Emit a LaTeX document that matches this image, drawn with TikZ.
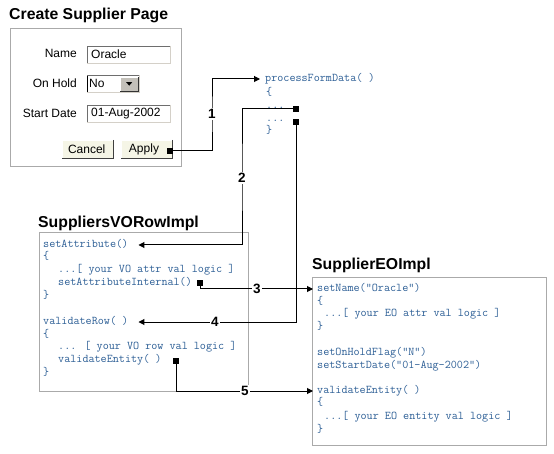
\documentclass[tikz,border=0pt]{standalone}
\usepackage{fontspec}
\setmainfont{Liberation Sans}
\usetikzlibrary{arrows.meta}
\definecolor{codeblue}{RGB}{45,95,150}
\definecolor{boxgray}{RGB}{170,170,170}
\definecolor{btnfill}{RGB}{245,245,230}
\definecolor{darkedge}{RGB}{110,110,110}
\definecolor{lightedge}{RGB}{212,208,200}
\begin{document}
\begin{tikzpicture}[x=1pt,y=-1pt,
  codeline/.style={anchor=west, inner sep=0pt, font=\ttfamily\fontsize{11.8}{13}\selectfont, text=codeblue, text height=7pt, text depth=2pt},
  title/.style={anchor=west, inner sep=0pt, font=\bfseries\fontsize{15.8}{18}\selectfont},
  formlabel/.style={anchor=east, inner sep=0pt, font=\fontsize{12}{14}\selectfont},
  formtext/.style={anchor=west, inner sep=0pt, font=\fontsize{12}{14}\selectfont},
  fieldbox/.style={anchor=north west, fill=white, inner sep=0pt},
  btn/.style={anchor=north west, fill=btnfill, inner sep=0pt, minimum width=51pt, minimum height=18pt},
  panel/.style={draw=boxgray, line width=1pt},
  sq/.style={fill=black, minimum size=6pt, inner sep=0pt},
  conn/.style={line width=1pt},
  arr/.style={conn, -{Triangle[length=6pt,width=6pt]}},
  num/.style={font=\bfseries\fontsize{13.5}{14}\selectfont, fill=white, inner sep=1pt}
]
\useasboundingbox (0,0) rectangle (554,454);
\fill[white] (0,0) rectangle (554,454);

% ---------- form ----------
\node[title] (formtitle) at (9,15) {Create Supplier Page};
\draw[panel] (10,29) rectangle (181,167);

\node[formlabel] (lname) at (77,53) {Name};
\node[formlabel] (lhold) at (77,83) {On Hold};
\node[formlabel] (ldate) at (77,113) {Start Date};

\node[fieldbox, minimum width=83pt, minimum height=17pt] (fname) at (87,46) {};
\draw[darkedge] (fname.south west) -- (fname.north west) -- (fname.north east);
\draw[lightedge] (fname.north east) -- (fname.south east) -- (fname.south west);
\node[formtext] (tname) at ([xshift=4pt]fname.west) {Oracle};

\node[fieldbox, minimum width=52pt, minimum height=17pt] (fhold) at (87,75) {};
\draw[black, line width=1pt] (fhold.south west) -- (fhold.north west);
\draw[darkedge] (fhold.north west) -- (fhold.north east);
\draw[lightedge] (fhold.north east) -- (fhold.south east) -- (fhold.south west);
\node[formtext] (thold) at ([xshift=2pt]fhold.west) {No};
\node[anchor=north west, fill=lightedge!80!gray, inner sep=0pt, minimum width=18pt, minimum height=14pt] (dropbtn) at (120,77) {};
\draw[white] (dropbtn.south west) -- (dropbtn.north west) -- (dropbtn.north east);
\draw[black!80] (dropbtn.north east) -- (dropbtn.south east) -- (dropbtn.south west);
\fill[black] ([xshift=-3pt,yshift=2pt]dropbtn.center) -- ([xshift=3pt,yshift=2pt]dropbtn.center) -- ([yshift=-1.5pt]dropbtn.center) -- cycle;

\node[fieldbox, minimum width=83pt, minimum height=17pt] (fdate) at (87,105) {};
\draw[darkedge] (fdate.south west) -- (fdate.north west) -- (fdate.north east);
\draw[lightedge] (fdate.north east) -- (fdate.south east) -- (fdate.south west);
\node[formtext] (tdate) at ([xshift=4pt]fdate.west) {01-Aug-2002};

\node[btn] (cancel) at (62,140) {};
\draw[white] (cancel.south west) -- (cancel.north west) -- (cancel.north east);
\draw[black!75, line width=1pt] (cancel.north east) -- (cancel.south east) -- (cancel.south west);
\node[formtext, anchor=center] (tcancel) at ([xshift=-1pt]cancel.center) {Cancel};

\node[btn] (apply) at (121,140) {};
\draw[white] (apply.south west) -- (apply.north west) -- (apply.north east);
\draw[black!75, line width=1pt] (apply.north east) -- (apply.south east) -- (apply.south west);
\node[formtext, anchor=center] (tapply) at (144,149) {Apply};
\node[sq] (s1) at (170,151) {};

% ---------- processFormData ----------
\node[codeline] (pfd) at (265,79) {processFormData( )};
\node[codeline] (pfd2) at (266,93) {\{};
\node[codeline] (pfd3) at (266,106) {...};
\node[codeline] (pfd4) at (266,119) {...};
\node[codeline] (pfd5) at (266,131) {\}};
\node[sq] (s2) at (296,109) {};
\node[sq] (s4) at (296,122) {};

% ---------- SuppliersVORowImpl ----------
\node[title] (votitle) at (38,223) {SuppliersVORowImpl};
\draw[panel] (39,233) rectangle (248,391);
\node[codeline] (setattr) at (43,245) {setAttribute()};
\node[codeline] (vo2) at (43,257) {\{};
\node[codeline] (vo3) at (58,270) {...[ your VO attr val logic ]};
\node[codeline] (setattrint) at (58,283) {setAttributeInternal()};
\node[codeline] (vo5) at (43,296) {\}};
\node[codeline] (valrow) at (43,322) {validateRow( )};
\node[codeline] (vo7) at (43,335) {\{};
\node[codeline] (vo8) at (58,347) {... [ your VO row val logic ]};
\node[codeline] (valent) at (58,360) {validateEntity( )};
\node[codeline] (vo10) at (43,373) {\}};
\node[sq] (s3) at (200,283) {};
\node[sq] (s5) at (176,361) {};

% ---------- SupplierEOImpl ----------
\node[title] (eotitle) at (312,265) {SupplierEOImpl};
\draw[panel] (312,278) rectangle (546,445);
\node[codeline] (setname) at (317,289) {setName("Oracle")};
\node[codeline] (eo2) at (317,302) {\{};
\node[codeline] (eo3) at (324,314) {...[ your EO attr val logic ]};
\node[codeline] (eo4) at (317,327) {\}};
\node[codeline] (eo5) at (317,353) {setOnHoldFlag("N")};
\node[codeline] (eo6) at (317,366) {setStartDate("01-Aug-2002")};
\node[codeline] (valent2) at (317,391) {validateEntity( )};
\node[codeline] (eo8) at (317,403) {\{};
\node[codeline] (eo9) at (324,417) {...[ your EO entity val logic ]};
\node[codeline] (eo10) at (317,430) {\}};

% ---------- connectors ----------
\coordinate (n1) at (212,114);
\coordinate (n2) at (242,178);
\coordinate (n3) at (257,289);
\coordinate (n4) at (215,322);
\coordinate (n5) at (245,391);

\draw[arr] (s1.center) -| (n1) |- ([xshift=-5pt]pfd.west);
\draw[arr] (s2.center) -| (n2) |- ([xshift=10pt]setattr.east);
\draw[arr] (s3.center) |- ([xshift=-4pt]setname.west);
\draw[arr] (s4.center) |- ([xshift=10pt]valrow.east);
\draw[arr] (s5.center) |- ([xshift=-4pt]valent2.west);

\node[num] (l1) at (n1) {1};
\node[num] (l2) at (n2) {2};
\node[num] (l3) at (n3) {3};
\node[num] (l4) at (n4) {4};
\node[num] (l5) at (n5) {5};
\end{tikzpicture}
\end{document}
